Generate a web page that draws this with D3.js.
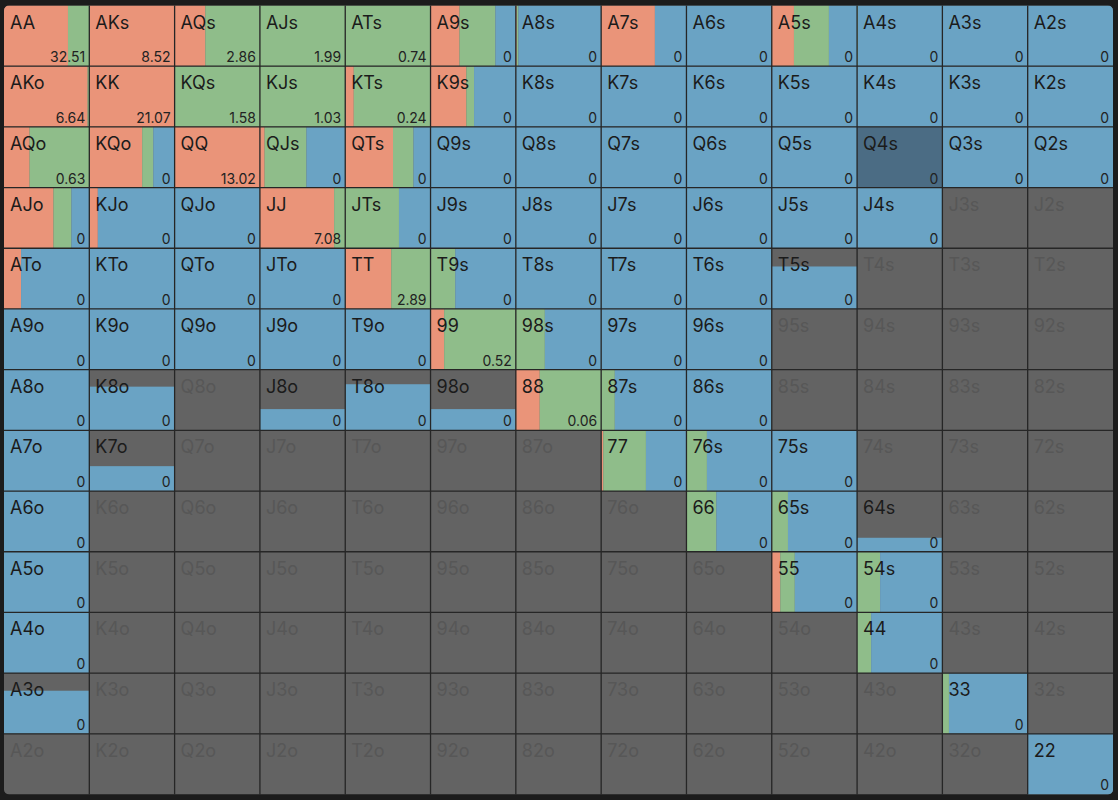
<!DOCTYPE html>
<html>
<head>
<meta charset="utf-8">
<script src="https://cdn.jsdelivr.net/npm/d3@7"></script>
<style>
  body { margin: 0; background: #1c1c1c; }
  svg { display: block; }
  .lbl { font-family: Inter, "Noto Sans", sans-serif; font-size: 18px; }
  .val { font-family: Inter, "Noto Sans", sans-serif; font-size: 14px; fill: #222; }
</style>
</head>
<body>
<div id="grid"></div>
<script>
// hand grid: rows/cols by rank, suited above the diagonal, offsuit below
var ranks = ["A","K","Q","J","T","9","8","7","6","5","4","3","2"];

// action frequencies (share of the cell width)
var raiseFreq = [
  [.75, 1, .36, 0, 0, .34, .01, .63, 0, .26, 0, 0, 0],
  [.98, 1, 0, 0, .10, .42, 0, 0, 0, 0, 0, 0, 0],
  [.30, .62, 1, .055, .56, 0, 0, 0, 0, 0, 0, 0, 0],
  [.58, .10, 0, .87, 0, 0, 0, 0, 0, 0, 0, 0, 0],
  [.20, 0, 0, 0, .54, 0, 0, 0, 0, 0, 0, 0, 0],
  [0, 0, 0, 0, 0, .16, 0, 0, 0, 0, 0, 0, 0],
  [0, 0, 0, 0, 0, 0, .28, 0, 0, 0, 0, 0, 0],
  [0, 0, 0, 0, 0, 0, 0, .025, 0, 0, 0, 0, 0],
  [0, 0, 0, 0, 0, 0, 0, 0, 0, 0, 0, 0, 0],
  [0, 0, 0, 0, 0, 0, 0, 0, 0, .10, 0, 0, 0],
  [0, 0, 0, 0, 0, 0, 0, 0, 0, 0, 0, 0, 0],
  [0, 0, 0, 0, 0, 0, 0, 0, 0, 0, 0, 0, 0],
  [0, 0, 0, 0, 0, 0, 0, 0, 0, 0, 0, 0, 0]
];
var callFreq = [
  [.25, 0, .64, 1, 1, .42, .02, 0, 0, .41, .01, 0, 0],
  [.02, 0, 1, 1, .90, .09, 0, 0, 0, 0, 0, 0, 0],
  [.70, .13, 0, .49, .24, 0, 0, 0, 0, 0, 0, 0, 0],
  [.21, 0, 0, .13, .63, 0, 0, 0, 0, 0, 0, 0, 0],
  [0, 0, 0, 0, .46, .29, 0, 0, 0, 0, 0, 0, 0],
  [0, 0, 0, 0, 0, .84, .34, 0, 0, 0, 0, 0, 0],
  [0, 0, 0, 0, 0, 0, .72, .16, 0, 0, 0, 0, 0],
  [0, 0, 0, 0, 0, 0, 0, .50, .24, 0, 0, 0, 0],
  [0, 0, 0, 0, 0, 0, 0, 0, .35, .19, 0, 0, 0],
  [0, 0, 0, 0, 0, 0, 0, 0, 0, .17, .27, 0, 0],
  [0, 0, 0, 0, 0, 0, 0, 0, 0, 0, .165, 0, 0],
  [0, 0, 0, 0, 0, 0, 0, 0, 0, 0, 0, .077, 0],
  [0, 0, 0, 0, 0, 0, 0, 0, 0, 0, 0, 0, 0]
];
var foldFreq = [
  [0, 0, 0, 0, 0, .24, .97, .37, 1, .33, .99, 1, 1],
  [0, 0, 0, 0, 0, .49, 1, 1, 1, 1, 1, 1, 1],
  [0, .25, 0, .455, .20, 1, 1, 1, 1, 1, 1, 1, 1],
  [.21, .90, 1, 0, .37, 1, 1, 1, 1, 1, 1, 0, 0],
  [.80, 1, 1, 1, 0, .71, 1, 1, 1, 1, 0, 0, 0],
  [1, 1, 1, 1, 1, 0, .66, 1, 1, 0, 0, 0, 0],
  [1, 1, 0, 1, 1, 1, 0, .84, 1, 0, 0, 0, 0],
  [1, 1, 0, 0, 0, 0, 0, .475, .76, 1, 0, 0, 0],
  [1, 0, 0, 0, 0, 0, 0, 0, .65, .81, 1, 0, 0],
  [1, 0, 0, 0, 0, 0, 0, 0, 0, .73, .73, 0, 0],
  [1, 0, 0, 0, 0, 0, 0, 0, 0, 0, .835, 0, 0],
  [1, 0, 0, 0, 0, 0, 0, 0, 0, 0, 0, .923, 0],
  [0, 0, 0, 0, 0, 0, 0, 0, 0, 0, 0, 0, 1]
];

// share of the combos kept (bar height), 0 = not in range
var weight = [
  [1, 1, 1, 1, 1, 1, 1, 1, 1, 1, 1, 1, 1],
  [1, 1, 1, 1, 1, 1, 1, 1, 1, 1, 1, 1, 1],
  [1, 1, 1, 1, 1, 1, 1, 1, 1, 1, 1, 1, 1],
  [1, 1, 1, 1, 1, 1, 1, 1, 1, 1, 1, 0, 0],
  [1, 1, 1, 1, 1, 1, 1, 1, 1, .70, 0, 0, 0],
  [1, 1, 1, 1, 1, 1, 1, 1, 1, 0, 0, 0, 0],
  [1, .72, 0, .35, .76, .35, 1, 1, 1, 0, 0, 0, 0],
  [1, .41, 0, 0, 0, 0, 0, 1, 1, 1, 0, 0, 0],
  [1, 0, 0, 0, 0, 0, 0, 0, 1, 1, .23, 0, 0],
  [1, 0, 0, 0, 0, 0, 0, 0, 0, 1, 1, 0, 0],
  [1, 0, 0, 0, 0, 0, 0, 0, 0, 0, 1, 0, 0],
  [.71, 0, 0, 0, 0, 0, 0, 0, 0, 0, 0, 1, 0],
  [0, 0, 0, 0, 0, 0, 0, 0, 0, 0, 0, 0, 1]
];

// EV shown in the corner (in-range hands only)
var ev = [
  [32.51, 8.52, 2.86, 1.99, 0.74, 0, 0, 0, 0, 0, 0, 0, 0],
  [6.64, 21.07, 1.58, 1.03, 0.24, 0, 0, 0, 0, 0, 0, 0, 0],
  [0.63, 0, 13.02, 0, 0, 0, 0, 0, 0, 0, 0, 0, 0],
  [0, 0, 0, 7.08, 0, 0, 0, 0, 0, 0, 0, 0, 0],
  [0, 0, 0, 0, 2.89, 0, 0, 0, 0, 0, 0, 0, 0],
  [0, 0, 0, 0, 0, 0.52, 0, 0, 0, 0, 0, 0, 0],
  [0, 0, 0, 0, 0, 0, 0.06, 0, 0, 0, 0, 0, 0],
  [0, 0, 0, 0, 0, 0, 0, 0, 0, 0, 0, 0, 0],
  [0, 0, 0, 0, 0, 0, 0, 0, 0, 0, 0, 0, 0],
  [0, 0, 0, 0, 0, 0, 0, 0, 0, 0, 0, 0, 0],
  [0, 0, 0, 0, 0, 0, 0, 0, 0, 0, 0, 0, 0],
  [0, 0, 0, 0, 0, 0, 0, 0, 0, 0, 0, 0, 0],
  [0, 0, 0, 0, 0, 0, 0, 0, 0, 0, 0, 0, 0]
];

var selected = "Q4s";
var actions = ["raise", "call", "fold"];
var colors = { raise: "#ea9479", call: "#8fbd8a", fold: "#6aa3c4" };

var W = 1118, H = 800;

var svg = d3.select("#grid").append("svg")
  .attr("width", W)
  .attr("height", H);

var x = d3.scaleBand().domain(d3.range(13)).range([4, 1113]);
var y = d3.scaleBand().domain(d3.range(13)).range([5.5, 794.5]);
var fw = d3.scaleLinear().domain([0, 1]).range([0, x.bandwidth()]);
var fh = d3.scaleLinear().domain([0, 1]).range([0, y.bandwidth()]);

svg.append("clipPath").attr("id", "round")
  .append("rect")
  .attr("x", 4).attr("y", 5.5)
  .attr("width", 1109).attr("height", 789)
  .attr("rx", 5);

var g = svg.append("g").attr("clip-path", "url(#round)");

function handName(i, j) {
  if (i == j) return ranks[i] + ranks[j];
  if (i < j) return ranks[i] + ranks[j] + "s";
  return ranks[j] + ranks[i] + "o";
}

var cells = [];
ranks.forEach(function(r, i) {
  ranks.forEach(function(c, j) {
    cells.push({
      row: i, col: j,
      name: handName(i, j),
      freq: [raiseFreq[i][j], callFreq[i][j], foldFreq[i][j]],
      w: weight[i][j],
      ev: ev[i][j]
    });
  });
});

var cell = g.selectAll(".cell")
  .data(cells)
  .enter().append("g")
  .attr("class", "cell")
  .attr("transform", function(d) { return "translate(" + x(d.col) + "," + y(d.row) + ")"; });

cell.append("rect")
  .attr("width", x.bandwidth())
  .attr("height", y.bandwidth())
  .attr("fill", "#636363");

cell.each(function(d) {
  if (!d.w) return;
  var off = 0;
  var segs = d.freq.map(function(f, k) {
    var s = { a: actions[k], x0: off, f: f };
    off += f;
    return s;
  }).filter(function(s) { return s.f > 0; });

  d3.select(this).selectAll(".seg")
    .data(segs)
    .enter().append("rect")
    .attr("class", "seg")
    .attr("x", function(s) { return fw(s.x0); })
    .attr("y", y.bandwidth() - fh(d.w))
    .attr("width", function(s) { return fw(s.f); })
    .attr("height", fh(d.w))
    .attr("fill", function(s) {
      if (d.name == selected && s.a == "fold") return "#4b6c84";
      return colors[s.a];
    });
});

cell.append("text")
  .attr("class", "lbl")
  .attr("x", 6)
  .attr("y", 23)
  .attr("fill", function(d) { return d.w ? "#1b1b1b" : "#575757"; })
  .text(function(d) { return d.name; });

cell.filter(function(d) { return d.w > 0; })
  .append("text")
  .attr("class", "val")
  .attr("x", x.bandwidth() - 4)
  .attr("y", y.bandwidth() - 4)
  .attr("text-anchor", "end")
  .text(function(d) { return d.ev == 0 ? "0" : d.ev.toFixed(2); });

// grid lines
var lines = svg.append("g")
  .attr("stroke", "#262626")
  .attr("stroke-width", 1.3);

lines.selectAll(".vl")
  .data(d3.range(1, 13))
  .enter().append("line")
  .attr("x1", function(k) { return x(k); })
  .attr("x2", function(k) { return x(k); })
  .attr("y1", 5.5).attr("y2", 794.5);

lines.selectAll(".hl")
  .data(d3.range(1, 13))
  .enter().append("line")
  .attr("y1", function(k) { return y(k); })
  .attr("y2", function(k) { return y(k); })
  .attr("x1", 4).attr("x2", 1113);
</script>
</body>
</html>
